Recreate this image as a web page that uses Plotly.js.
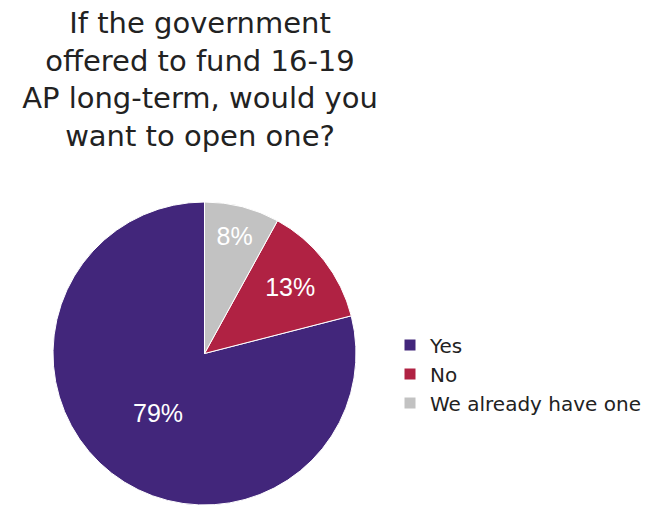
<!DOCTYPE html>
<html>
<head>
<meta charset="utf-8">
<script src="https://cdn.plot.ly/plotly-3.0.1.min.js"></script>
<style>html,body{margin:0;padding:0;background:#fff;}#chart{width:652px;height:506px;}</style>
</head>
<body>
<div id="chart"></div>
<script>
const labels = ["Yes", "No", "We already have one"];
const values = [79, 13, 8];
const colors = ["#42267b", "#b02243", "#c2c2c2"];
const titleText = "If the government<br>offered to fund 16-19<br>AP long-term, would you<br>want to open one?";
const FONT = "DejaVu Sans, Liberation Sans, Arial, sans-serif";

// Start the first slice so that the remaining slices sit clockwise from 12 o'clock
const total = values.reduce((a, b) => a + b, 0);
const startRotation = 360 * (total - values[0]) / total;

const data = [{
  type: "pie",
  labels: labels,
  values: values,
  sort: false,
  direction: "counterclockwise",
  rotation: startRotation,
  marker: {colors: colors, line: {color: "#ffffff", width: 1}},
  texttemplate: "%{percent:.0%}",
  textposition: "inside",
  insidetextorientation: "horizontal",
  insidetextfont: {family: "Liberation Sans, Arial, sans-serif", size: 25, color: "#ffffff"},
  domain: {x: [52/652, 357/652], y: [1/506, 304/506]},
  hoverinfo: "none"
}];

const layout = {
  width: 652, height: 506,
  margin: {l: 0, r: 0, t: 0, b: 0},
  paper_bgcolor: "#ffffff",
  font: {family: FONT, color: "#222222"},
  title: {
    text: titleText,
    font: {family: FONT, size: 29, color: "#222222"},
    x: 200/652, xanchor: "center",
    y: 1 - 33/506, yanchor: "top"
  },
  showlegend: true,
  legend: {
    x: 390/652, xanchor: "left",
    y: 1 - 374/506, yanchor: "middle",
    font: {family: FONT, size: 20, color: "#222222"},
    itemwidth: 30,
    tracegroupgap: 0
  }
};

Plotly.newPlot("chart", data, layout, {staticPlot: true});
</script>
</body>
</html>
